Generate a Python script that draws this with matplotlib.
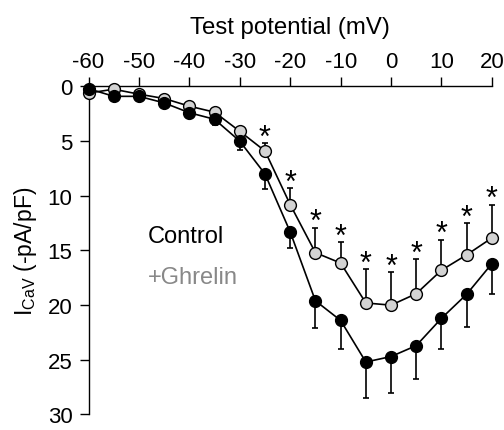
import matplotlib
matplotlib.use("Agg")
import matplotlib.pyplot as plt
import numpy as np

plt.rcParams['font.family'] = ['Liberation Sans', 'DejaVu Sans']
plt.rcParams['mathtext.default'] = 'regular'

voltage = [-60, -55, -50, -45, -40, -35, -30, -25, -20, -15, -10, -5, 0, 5, 10, 15, 20]
control = [0.2, 0.9, 0.9, 1.5, 2.4, 3.0, 5.0, 8.0, 13.3, 19.6, 21.4, 25.2, 24.7, 23.7, 21.2, 19.0, 16.2]
control_sem = [0.1, 0.2, 0.2, 0.3, 0.5, 0.5, 0.8, 1.4, 1.5, 2.5, 2.6, 3.3, 3.3, 3.1, 2.8, 3.0, 2.8]
ghrelin = [0.6, 0.25, 0.7, 1.1, 1.8, 2.35, 4.1, 5.9, 10.8, 15.2, 16.15, 19.8, 20.0, 18.95, 16.8, 15.4, 13.85]
ghrelin_sem = [0.1, 0.1, 0.1, 0.1, 0.2, 0.2, 0.3, 0.7, 1.5, 2.3, 1.95, 3.1, 3.0, 3.15, 2.8, 2.9, 3.05]
significant = [False, False, False, False, False, False, False, True, True, True, True, True, True, True, True, True, True]

xticks = [-60, -50, -40, -30, -20, -10, 0, 10, 20]
yticks = [0, 5, 10, 15, 20, 25, 30]

fig = plt.figure(figsize=(5.04, 4.31), dpi=100)
ax = fig.add_axes([0.1756, 0.036, 0.8004, 0.761])

v = np.array(voltage)
c = np.array(control); cs = np.array(control_sem)
g = np.array(ghrelin); gs = np.array(ghrelin_sem)

# Ghrelin: error bars toward smaller current (upward on inverted axis)
ax.errorbar(v, g, yerr=[gs, np.zeros_like(gs)], fmt='none', ecolor='black',
            elinewidth=1.2, capsize=2.0, capthick=1.2, clip_on=False, zorder=2)
ax.plot(v, g, '-o', color='black', lw=1.2, markersize=8.5, markerfacecolor='#d3d3d3',
        markeredgecolor='black', markeredgewidth=1.0, clip_on=False, zorder=3)

# Control: error bars toward larger current (downward)
ax.errorbar(v, c, yerr=[np.zeros_like(cs), cs], fmt='none', ecolor='black',
            elinewidth=1.2, capsize=2.0, capthick=1.2, clip_on=False, zorder=4)
ax.plot(v, c, '-o', color='black', lw=1.2, markersize=8.5, markerfacecolor='black',
        markeredgecolor='black', markeredgewidth=1.0, clip_on=False, zorder=5)

for xi, yi, si, sig in zip(v, g, gs, significant):
    if sig:
        ax.annotate('*', xy=(xi, yi - si), xytext=(0, -2), textcoords='offset points',
                    ha='center', va='baseline', fontsize=22, color='black')

ax.set_xlim(-60, 20)
ax.set_ylim(30, 0)
ax.xaxis.tick_top()
ax.xaxis.set_label_position('top')
ax.set_xticks(xticks)
ax.set_xticklabels([str(t) for t in xticks])
ax.set_yticks(yticks)
ax.tick_params(axis='both', direction='out', length=6.5, width=1.0, labelsize=16, pad=4)
ax.tick_params(axis='y', pad=5)
for s in ['right', 'bottom']:
    ax.spines[s].set_visible(False)
for s in ['top', 'left']:
    ax.spines[s].set_linewidth(1.0)

ax.set_xlabel('Test potential (mV)', fontsize=17.3, labelpad=13)
ax.set_ylabel('I$_{CaV}$ (-pA/pF)', fontsize=16.5, labelpad=6)

ax.text(0.146, 0.527, 'Control', transform=ax.transAxes, fontsize=17, color='black',
        ha='left', va='baseline')
ax.text(0.146, 0.400, '+Ghrelin', transform=ax.transAxes, fontsize=17, color='#888888',
        ha='left', va='baseline')

fig.savefig('out.png', dpi=100)
